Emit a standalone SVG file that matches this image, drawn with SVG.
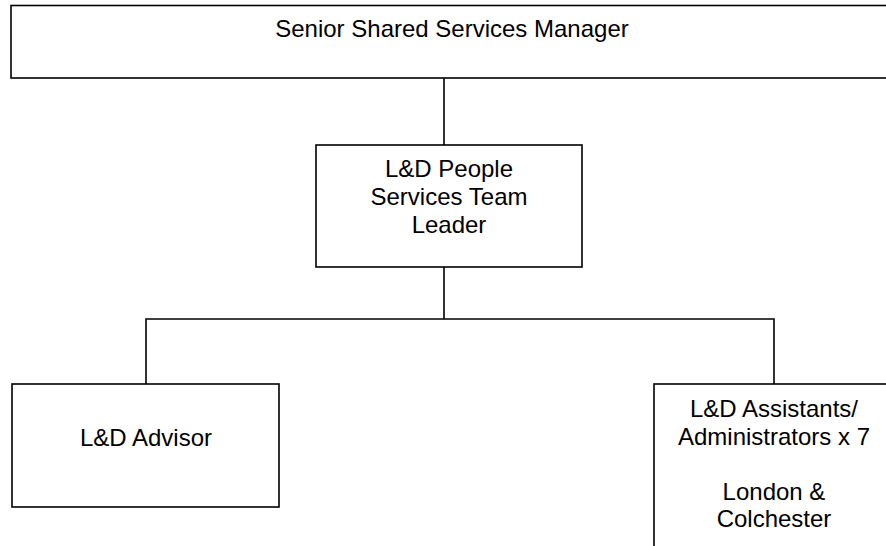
<svg xmlns="http://www.w3.org/2000/svg" width="886" height="546" viewBox="0 0 886 546">
  <style>
    .box { fill: #ffffff; stroke: #000000; stroke-width: 1.6; }
    .link { fill: none; stroke: #000000; stroke-width: 1.6; }
    .label { font-family: "Liberation Sans", Arial, sans-serif; font-size: 24px; fill: #000000; text-anchor: middle; }
  </style>
  <rect width="886" height="546" fill="#ffffff"/>

  <!-- reporting lines -->
  <g id="connectors">
    <line class="link" x1="444" y1="78" x2="444" y2="145"/>
    <line class="link" x1="444" y1="267" x2="444" y2="319"/>
    <polyline class="link" points="146,384 146,319 774,319 774,384"/>
  </g>

  <g id="senior-manager">
    <rect class="box" x="11" y="5.5" width="884" height="72.5"/>
    <text class="label" x="452" y="37">Senior Shared Services Manager</text>
  </g>

  <g id="team-leader">
    <rect class="box" x="316" y="145" width="266" height="122"/>
    <text class="label" x="449" y="177">L&amp;D People</text>
    <text class="label" x="449" y="205">Services Team</text>
    <text class="label" x="449" y="233">Leader</text>
  </g>

  <g id="advisor">
    <rect class="box" x="12" y="384" width="267" height="123"/>
    <text class="label" x="146" y="446">L&amp;D Advisor</text>
  </g>

  <g id="assistants">
    <rect class="box" x="654" y="384" width="240" height="170"/>
    <text class="label" x="774" y="417">L&amp;D Assistants/</text>
    <text class="label" x="774" y="445">Administrators x 7</text>
    <text class="label" x="774" y="500">London &amp;</text>
    <text class="label" x="774" y="527">Colchester</text>
  </g>
</svg>
